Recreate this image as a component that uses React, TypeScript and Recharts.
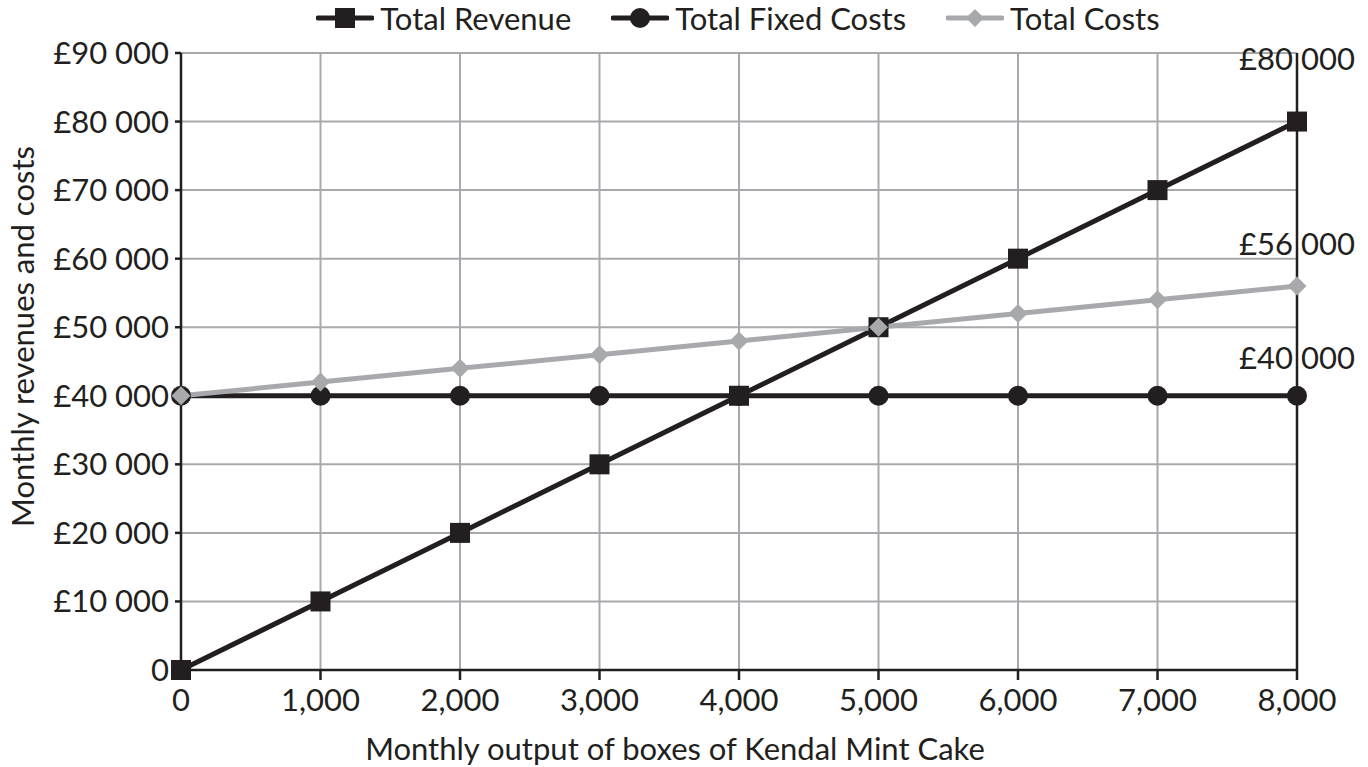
import { LineChart, Line, XAxis, YAxis, CartesianGrid, Legend, ReferenceLine, LabelList } from "recharts";

const outputs = [0, 1000, 2000, 3000, 4000, 5000, 6000, 7000, 8000];
const totalRevenue = [0, 10000, 20000, 30000, 40000, 50000, 60000, 70000, 80000];
const totalFixedCosts = [40000, 40000, 40000, 40000, 40000, 40000, 40000, 40000, 40000];
const totalCosts = [40000, 42000, 44000, 46000, 48000, 50000, 52000, 54000, 56000];
const yTicks = [0, 10000, 20000, 30000, 40000, 50000, 60000, 70000, 80000, 90000];

const data = outputs.map((x, i) => ({
  output: x,
  revenue: totalRevenue[i],
  fixed: totalFixedCosts[i],
  costs: totalCosts[i],
}));

const BLACK = "#231f20";
const GREY = "#a7a9ac";
const FONT = "Lato, 'Open Sans', sans-serif";
const FS = 31;

const pounds = (v: number) => (v === 0 ? "0" : "£" + String(v).replace(/\B(?=(\d{3})+(?!\d))/g, " "));
const commas = (v: number) => v.toLocaleString("en-US");

const SquareDot = (p: any) => (
  <rect key={`s${p.index}`} x={p.cx - 10} y={p.cy - 10} width={20} height={20} fill={BLACK} />
);
const CircleDot = (p: any) => <circle key={`c${p.index}`} cx={p.cx} cy={p.cy} r={10} fill={BLACK} />;
const DiamondDot = (p: any) => (
  <path
    key={`d${p.index}`}
    d={`M${p.cx},${p.cy - 9.5} L${p.cx + 9.5},${p.cy} L${p.cx},${p.cy + 9.5} L${p.cx - 9.5},${p.cy} Z`}
    fill={GREY}
  />
);

const legendItems = [
  { name: "Total Revenue", color: BLACK, marker: "square" },
  { name: "Total Fixed Costs", color: BLACK, marker: "circle" },
  { name: "Total Costs", color: GREY, marker: "diamond" },
];

const LegendIcon = ({ color, marker }: { color: string; marker: string }) => (
  <svg width={58} height={24} style={{ marginRight: 6 }}>
    <line x1={2} y1={12} x2={56} y2={12} stroke={color} strokeWidth={5} strokeLinecap="round" />
    {marker === "square" && <rect x={19} y={2} width={20} height={20} fill={color} />}
    {marker === "circle" && <circle cx={29} cy={12} r={10} fill={color} />}
    {marker === "diamond" && <path d="M29,3 L38,12 L29,21 L20,12 Z" fill={color} />}
  </svg>
);

const renderLegend = () => (
  <div
    style={{
      height: 53,
      width: 1368,
      paddingLeft: 108,
      boxSizing: "border-box",
      display: "flex",
      justifyContent: "center",
      alignItems: "flex-start",
      fontFamily: FONT,
      fontSize: FS,
      color: BLACK,
    }}
  >
    {legendItems.map((it) => (
      <div key={it.name} style={{ display: "flex", alignItems: "center", height: 36, margin: "0 20px" }}>
        <LegendIcon color={it.color} marker={it.marker} />
        <span>{it.name}</span>
      </div>
    ))}
  </div>
);

const endLabel = (dy: number) => (props: any) => {
  const { x, y, index, value } = props;
  if (index !== outputs.length - 1) return null;
  return (
    <text x={x} y={y + dy} textAnchor="middle" dominantBaseline="central" fontFamily={FONT} fontSize={FS} fill={BLACK}>
      {pounds(value)}
    </text>
  );
};

const YLabel = (props: any) => {
  const { viewBox } = props;
  const cy = viewBox.y + viewBox.height / 2 - 25;
  return (
    <text
      x={22}
      y={cy}
      transform={`rotate(-90, 22, ${cy})`}
      textAnchor="middle"
      dominantBaseline="central"
      fontFamily={FONT}
      fontSize={FS}
      fill={BLACK}
    >
      Monthly revenues and costs
    </text>
  );
};

const XLabel = (props: any) => {
  const { viewBox } = props;
  return (
    <text
      x={viewBox.x + viewBox.width / 2 - 64}
      y={viewBox.y + 78}
      textAnchor="middle"
      dominantBaseline="central"
      fontFamily={FONT}
      fontSize={FS}
      fill={BLACK}
    >
      Monthly output of boxes of Kendal Mint Cake
    </text>
  );
};

const tickStyle = { fill: BLACK, fontSize: FS, fontFamily: FONT };

export default function App() {
  return (
    <div style={{ position: "absolute", left: 0, top: 0, width: 1368, height: 767, background: "#fff" }}>
      <LineChart width={1368} height={767} data={data} margin={{ top: 0, right: 71, bottom: 0, left: 0 }}>
        <CartesianGrid stroke={GREY} strokeWidth={2} />
        <XAxis
          dataKey="output"
          type="number"
          domain={[0, 8000]}
          ticks={outputs}
          tickFormatter={commas}
          height={97}
          tickSize={10}
          tickMargin={9}
          tick={tickStyle}
          stroke={BLACK}
          strokeWidth={2.5}
          label={<XLabel />}
        />
        <YAxis
          type="number"
          domain={[0, 90000]}
          ticks={yTicks}
          tickFormatter={pounds}
          width={181}
          tickSize={6}
          tickMargin={6}
          tick={tickStyle}
          stroke={BLACK}
          strokeWidth={2.5}
          label={<YLabel />}
          interval={0}
        />
        <ReferenceLine x={8000} stroke={BLACK} strokeWidth={2.5} />
        <Legend verticalAlign="top" content={renderLegend} wrapperStyle={{ left: 0, top: 0, width: 1368 }} />
        <Line
          dataKey="revenue"
          name="Total Revenue"
          stroke={BLACK}
          strokeWidth={5}
          dot={SquareDot}
          isAnimationActive={false}
        >
          <LabelList dataKey="revenue" content={endLabel(-64)} />
        </Line>
        <Line
          dataKey="fixed"
          name="Total Fixed Costs"
          stroke={BLACK}
          strokeWidth={5}
          dot={CircleDot}
          isAnimationActive={false}
        >
          <LabelList dataKey="fixed" content={endLabel(-39)} />
        </Line>
        <Line
          dataKey="costs"
          name="Total Costs"
          stroke={GREY}
          strokeWidth={5}
          dot={DiamondDot}
          isAnimationActive={false}
        >
          <LabelList dataKey="costs" content={endLabel(-43)} />
        </Line>
      </LineChart>
    </div>
  );
}
